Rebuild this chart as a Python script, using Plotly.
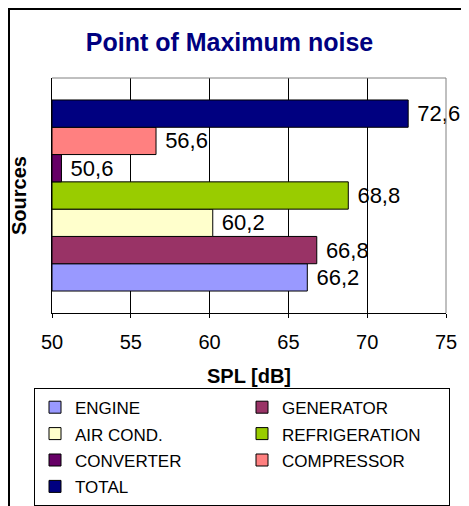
import plotly.graph_objects as go

# ---- data ----
sources = ["ENGINE", "GENERATOR", "AIR COND.", "REFRIGERATION", "CONVERTER", "COMPRESSOR", "TOTAL"]
spl_db = [66.2, 66.8, 60.2, 68.8, 50.6, 56.6, 72.6]
colors = ["#9999FF", "#993366", "#FFFFCC", "#99CC00", "#660066", "#FF8080", "#000080"]
x_ticks = [50, 55, 60, 65, 70, 75]
category = ["Point of Maximum noise"]
AXIS_MIN, AXIS_MAX = 50, 75

# ---- geometry (figure sits at an 8px page offset) ----
W, H = 461, 498
ML, MR, MT, MB = 44, 23, 70, 193
PW = W - ML - MR
PH = H - MT - MB


def paper_x(px):
    return (px - ML) / PW


def paper_y(py):
    return (H - MB - py) / PH


FONT = "Liberation Sans, Arial, Helvetica, sans-serif"

fig = go.Figure()
for name, val, col in zip(sources, spl_db, colors):
    fig.add_trace(go.Bar(
        y=category,
        x=[val - AXIS_MIN],
        base=AXIS_MIN,
        orientation="h",
        name=f'<span style="font-size:17px">{name}</span>',
        marker=dict(color=col, line=dict(color="black", width=1)),
        text=["\u00a0" + f"{val:.1f}".replace(".", ",")],
        textposition="outside",
        textfont=dict(size=22, color="black", family=FONT),
        constraintext="none",
        cliponaxis=False,
        hoverinfo="skip",
    ))

fig.update_layout(
    width=W, height=H,
    margin=dict(l=ML, r=MR, t=MT, b=MB, autoexpand=False),
    paper_bgcolor="white", plot_bgcolor="white",
    font=dict(family=FONT, color="black"),
    title=dict(
        text="Point of Maximum noise",
        font=dict(size=25, color="#000080", family=FONT, weight="bold"),
        x=221.5 / W, xanchor="center", xref="container",
        y=1 - 34 / H, yanchor="middle", yref="container",
    ),
    barmode="group", bargap=0.187, bargroupgap=0,
    showlegend=True,
    legend=dict(
        orientation="h",
        x=paper_x(26), xanchor="left",
        y=paper_y(380), yanchor="top",
        entrywidth=162, entrywidthmode="pixels",
        font=dict(size=18, family=FONT, color="black"),
        bordercolor="black", borderwidth=1, bgcolor="white",
        traceorder="normal",
    ),
    xaxis=dict(
        range=[AXIS_MIN, AXIS_MAX], tickvals=x_ticks,
        showgrid=True, gridcolor="black", gridwidth=1,
        showline=True, linecolor="black", linewidth=1,
        ticks="outside", ticklen=4, tickcolor="black", tickwidth=1,
        tickfont=dict(size=20, family=FONT, color="black"),
        ticklabelstandoff=7,
        zeroline=False, fixedrange=True,
        title=dict(text="SPL [dB]", font=dict(size=20, family=FONT, weight="bold", color="black"), standoff=16),
    ),
    yaxis=dict(
        showticklabels=False, showgrid=False, zeroline=False,
        showline=True, linecolor="black", linewidth=1, ticks="",
        fixedrange=True,
        title=dict(text="Sources", font=dict(size=20, family=FONT, weight="bold", color="black"), standoff=24),
    ),
    shapes=[
        # outer chart frame (cut off at right and bottom)
        dict(type="rect", xref="paper", yref="paper",
             x0=paper_x(1), x1=paper_x(W + 20), y0=paper_y(H + 20), y1=paper_y(1),
             line=dict(color="black", width=2), layer="above"),
        # plot-area border (top and right, grey)
        dict(type="line", xref="paper", yref="paper", x0=0, x1=1, y0=1, y1=1,
             line=dict(color="#808080", width=1), layer="above"),
        dict(type="line", xref="paper", yref="paper", x0=1, x1=1, y0=0, y1=1,
             line=dict(color="#808080", width=1), layer="above"),
    ],
)

fig.write_html("out.html")
